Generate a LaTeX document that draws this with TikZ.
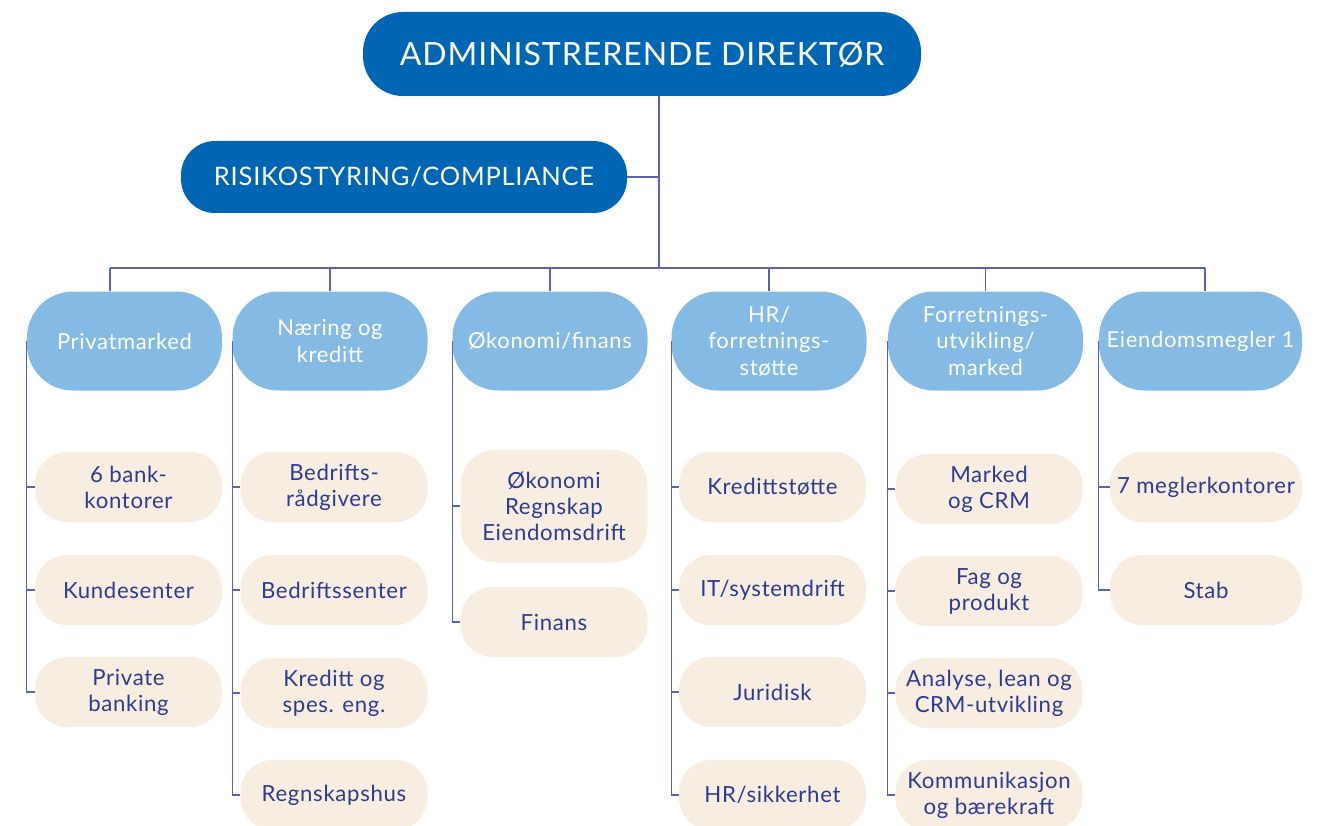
\documentclass[tikz,border=0pt]{standalone}
\usepackage{fontspec}
\setmainfont{Lato}[LetterSpace=3]
\usepackage{tikz}
\usetikzlibrary{positioning,calc}

\definecolor{ceoblue}{HTML}{0066B3}
\definecolor{deptblue}{HTML}{84BAE3}
\definecolor{unitbeige}{HTML}{F8EDE1}
\definecolor{linkblue}{HTML}{5B64AA}
\definecolor{textnavy}{HTML}{2D3B90}

\tikzset{
  ceobox/.style={fill=ceoblue, text=white, inner sep=0pt, align=center,
    font=\fontsize{32}{38}\selectfont},
  deptbox/.style={fill=deptblue, text=white, rounded corners=46pt, inner sep=0pt,
    minimum width=195pt, minimum height=99pt, align=center,
    font=\fontsize{22}{26.5}\selectfont},
  unitbox/.style={fill=unitbeige, text=textnavy, rounded corners=32pt, inner sep=0pt,
    minimum width=187pt, minimum height=70pt, align=center,
    font=\fontsize{22.2}{26}\selectfont},
  link/.style={draw=linkblue, line width=1.1pt}
}

\begin{document}
\begin{tikzpicture}[x=1pt,y=-1pt]
\useasboundingbox (0,0) rectangle (1329,826);

% Top level
\node[ceobox, rounded corners=40pt, minimum width=558pt, minimum height=84pt] (ceo) at (642,54) {ADMINISTRERENDE DIREKTØR};
\node[ceobox, rounded corners=34pt, minimum width=446pt, minimum height=72pt,
      font=\fontsize{25.5}{30}\selectfont] (risk) at (404,177) {RISIKOSTYRING/COMPLIANCE};

% Departments
\node[deptbox] (pm) at (124.5,341) {Privatmarked};
\node[deptbox] (nk) at (330,341) {Næring og\\kreditt};
\node[deptbox] (of) at (550,341) {Økonomi/finans};
\node[deptbox] (hr) at (769,341) {HR/\\forretnings-\\støtte};
\node[deptbox] (fu) at (985.5,341) {Forretnings-\\utvikling/\\marked};
\node[deptbox, minimum width=203pt] (em) at (1200.5,341) {Eiendomsmegler 1};

% Units
\node[unitbox] (pm1) at (128.5,487) {6 bank-\\kontorer};
\node[unitbox] (pm2) at (128.5,590) {Kundesenter};
\node[unitbox] (pm3) at (128.5,692) {Private\\banking};

\node[unitbox] (nk1) at (334,487) {Bedrifts-\\rådgivere};
\node[unitbox] (nk2) at (334,590) {Bedriftssenter};
\node[unitbox] (nk3) at (334,693) {Kreditt og\\spes. eng.};
\node[unitbox] (nk4) at (334,795) {Regnskapshus};

\node[unitbox, minimum height=113pt, rounded corners=36pt] (of1) at (554,506) {Økonomi\\Regnskap\\Eiendomsdrift};
\node[unitbox] (of2) at (554,622) {Finans};

\node[unitbox] (hr1) at (772.5,487) {Kredittstøtte};
\node[unitbox] (hr2) at (772.5,590) {IT/systemdrift};
\node[unitbox] (hr3) at (772.5,692) {Juridisk};
\node[unitbox] (hr4) at (772.5,795) {HR/sikkerhet};

\node[unitbox] (fu1) at (989,489) {Marked\\og CRM};
\node[unitbox] (fu2) at (989,591) {Fag og\\produkt};
\node[unitbox] (fu3) at (989,693) {Analyse, lean og\\CRM-utvikling};
\node[unitbox] (fu4) at (989,795) {Kommunikasjon\\og bærekraft};

\node[unitbox, minimum width=192pt] (em1) at (1206,487) {7 meglerkontorer};
\node[unitbox, minimum width=192pt] (em2) at (1206,590) {Stab};

% Trunk and bus
\coordinate (trunk) at (659,268);
\coordinate (busL) at (110,268);
\coordinate (busR) at (1205,268);
\draw[link] (trunk |- ceo.south) -- (trunk);
\draw[link] (risk.east) -- (risk.east -| trunk);
\draw[link] (busL) -- (busR);
\draw[link] (busL) -- (busL |- pm.north);
\draw[link] (busR) -- (busR |- em.north);
\foreach \d in {nk,of,hr,fu}
  \draw[link] (\d.north |- trunk) -- (\d.north);

% Columns
\foreach \u in {pm1,pm2,pm3} \draw[link] (pm.west) |- (\u.west);
\foreach \u in {nk1,nk2,nk3,nk4} \draw[link] (nk.west) |- (\u.west);
\foreach \u in {of1,of2} \draw[link] (of.west) |- (\u.west);
\foreach \u in {hr1,hr2,hr3,hr4} \draw[link] (hr.west) |- (\u.west);
\foreach \u in {fu1,fu2,fu3,fu4} \draw[link] (fu.west) |- (\u.west);
\foreach \u in {em1,em2} \draw[link] (em.west) |- (\u.west);
\end{tikzpicture}
\end{document}
